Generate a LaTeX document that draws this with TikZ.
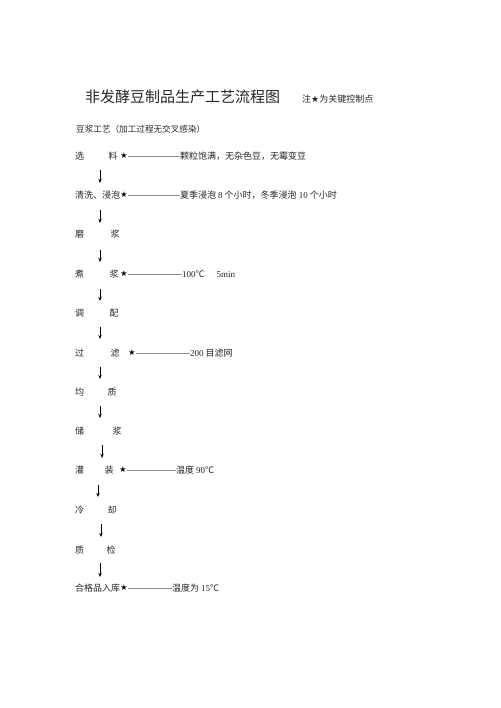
\documentclass[tikz,border=0pt]{standalone}
\usepackage{fontspec}
\setmainfont{Liberation Serif}
\newfontfamily\cjk{Noto Sans CJK SC}
\newfontfamily\symf{DejaVu Sans}
\usetikzlibrary{arrows.meta}
\newcommand\rl[1]{{\rmfamily #1}}
\begin{document}
\begin{tikzpicture}[x=1pt,y=-1pt,
  txt/.style={inner sep=0pt,anchor=west,font=\cjk\fontsize{9}{9}\selectfont,text=black!85},
  titletxt/.style={inner sep=0pt,anchor=west,font=\cjk\fontsize{15}{15}\selectfont,text=black!85},
  hdr/.style={inner sep=0pt,anchor=west,font=\cjk\fontsize{8.6}{8.6}\selectfont,text=black!85},
  starn/.style={inner sep=0pt,anchor=center,font=\symf\fontsize{8}{8}\selectfont},
  lead/.style={draw=black!45,line width=0.45pt},
  flow/.style={draw=black,line width=0.9pt,-{Stealth[length=4.2pt,width=3.4pt]}}]
\useasboundingbox[fill=white] (0,0) rectangle (500,708);

% title
\node[titletxt] (title) at (85,97) {非发酵豆制品生产工艺流程图};
\node[txt] (note) at (302,99) {注{\symf ★}为关键控制点};
\node[hdr] (hdr) at (76,129) {豆浆工艺（加工过程无交叉感染）};

% steps
\node[txt] (s1) at (75,156) {选\hspace{24.5pt}料};
\node[starn] (st1) at (124,156) {★};
\node[txt] (d1) at (180,156) {颗粒饱满，无杂色豆，无霉变豆};
\draw[lead] (st1.east) -- (d1.west);

\node[txt] (s2) at (75,195) {清洗、浸泡};
\node[starn] (st2) at (124,195) {★};
\node[txt] (d2) at (180,195) {夏季浸泡 \rl{8} 个小时，冬季浸泡 \rl{10} 个小时};
\draw[lead] (st2.east) -- (d2.west);

\node[txt] (s3) at (75,234) {磨\hspace{26.5pt}浆};

\node[txt] (s4) at (75,274) {煮\hspace{25.5pt}浆};
\node[starn] (st4) at (124,274) {★};
\node[txt] (d4) at (182,274) {\rl{100}℃\hspace{12pt}\rl{5min}};
\draw[lead] (st4.east) -- (d4.west);

\node[txt] (s5) at (75,313) {调\hspace{25.5pt}配};

\node[txt] (s6) at (75,353) {过\hspace{26.5pt}滤};
\node[starn] (st6) at (132,353) {★};
\node[txt] (d6) at (190,353) {\rl{200} 目滤网};
\draw[lead] (st6.east) -- (d6.west);

\node[txt] (s7) at (75,392) {均\hspace{23.5pt}质};

\node[txt] (s8) at (75,431) {储\hspace{28.5pt}浆};

\node[txt] (s9) at (75,470) {灌\hspace{20.5pt}装};
\node[starn] (st9) at (123,470) {★};
\node[txt] (d9) at (176,470) {温度 \rl{90}℃};
\draw[lead] (st9.east) -- (d9.west);

\node[txt] (s10) at (75,510) {冷\hspace{23.5pt}却};

\node[txt] (s11) at (75,550) {质\hspace{22.5pt}检};

\node[txt] (s12) at (75,588) {合格品入库};
\node[starn] (st12) at (124,588) {★};
\node[txt] (d12) at (172,588) {温度为 \rl{15}℃};
\draw[lead] (st12.east) -- (d12.west);

% arrows
\coordinate (a1s) at (100,170); \coordinate (a1e) at (100,183);
\coordinate (a2s) at (100,210); \coordinate (a2e) at (100,223);
\coordinate (a3s) at (100,250); \coordinate (a3e) at (100,262);
\coordinate (a4s) at (100,289); \coordinate (a4e) at (100,301);
\coordinate (a5s) at (100,327); \coordinate (a5e) at (100,339);
\coordinate (a6s) at (100,367); \coordinate (a6e) at (100,379);
\coordinate (a7s) at (100,406); \coordinate (a7e) at (100,418);
\coordinate (a8s) at (102,445); \coordinate (a8e) at (102,458);
\coordinate (a9s) at (98,485);  \coordinate (a9e) at (98,497);
\coordinate (a10s) at (101,524); \coordinate (a10e) at (101,537);
\coordinate (a11s) at (100,563); \coordinate (a11e) at (100,577);
\foreach \i in {1,...,11} {\draw[flow] (a\i s) -- (a\i e);}
\end{tikzpicture}
\end{document}
